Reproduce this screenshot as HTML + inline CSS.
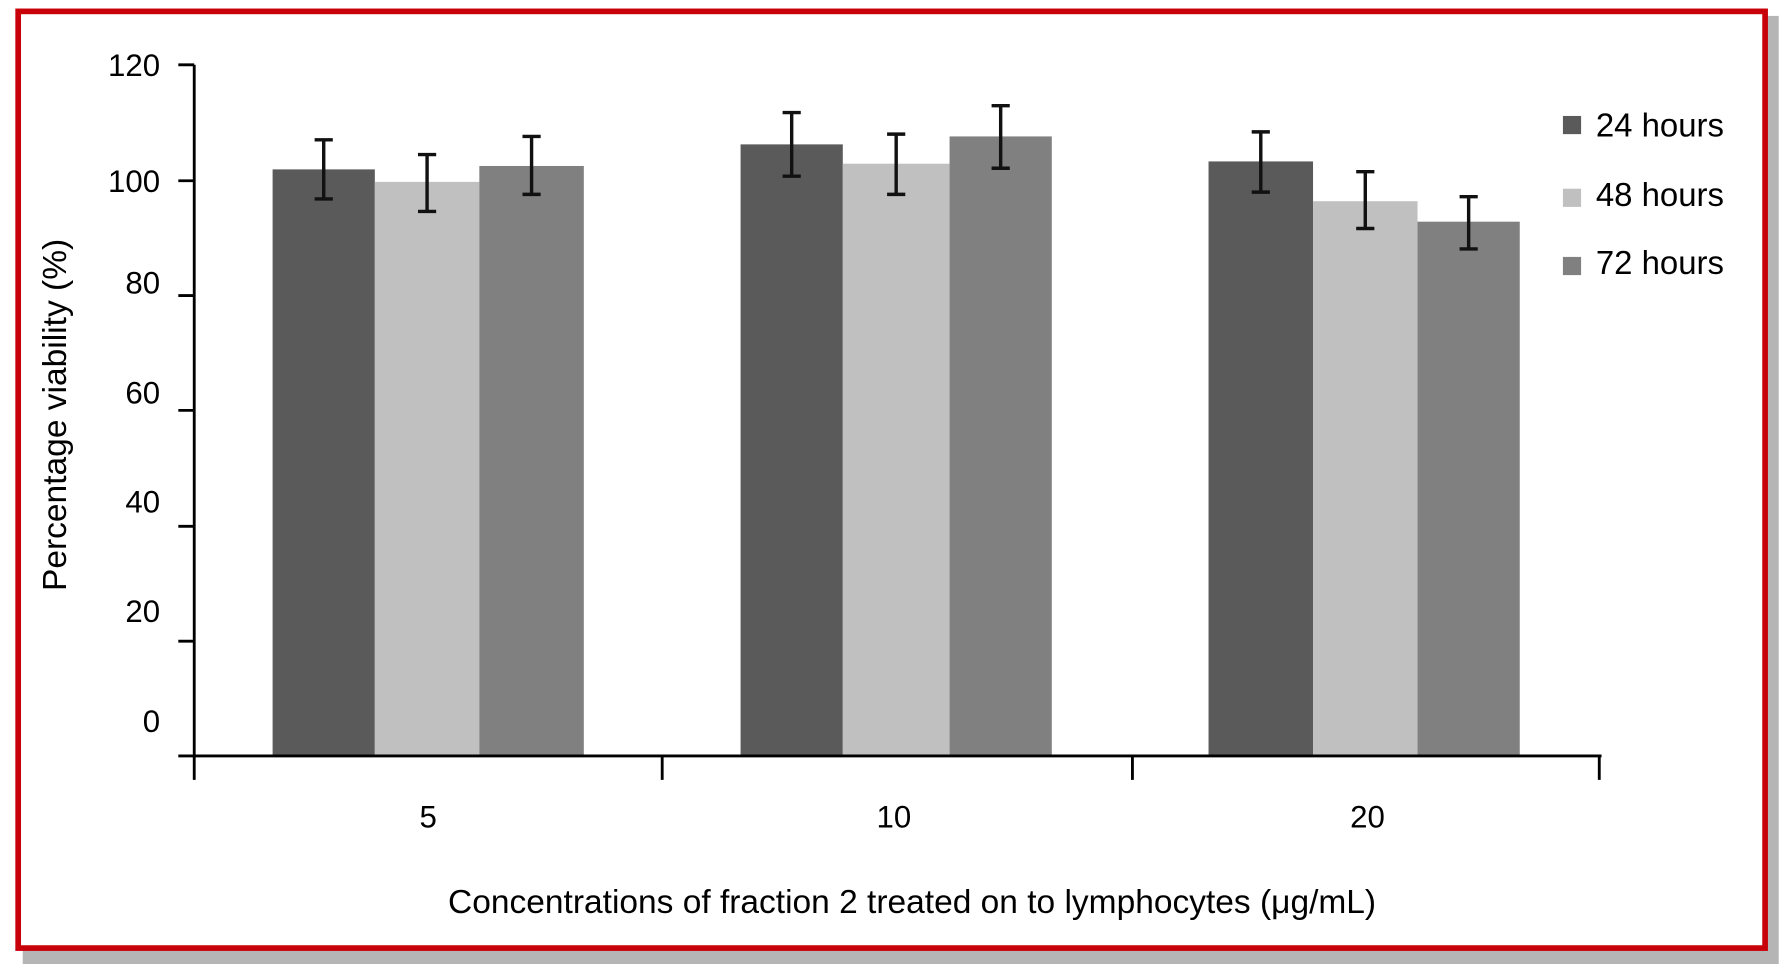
<!DOCTYPE html>
<html><head><meta charset="utf-8"><style>html,body{margin:0;padding:0;background:#fff}svg{display:block}</style></head>
<body>
<svg width="1781" height="964" viewBox="0 0 1568 848" preserveAspectRatio="none" xmlns="http://www.w3.org/2000/svg" font-family="Liberation Sans, Arial, sans-serif">
<rect x="0" y="0" width="1568" height="848" fill="#fff"/>
<rect x="20" y="14" width="1546" height="834" fill="#b5b5b5"/>
<rect x="16" y="10" width="1538" height="824" fill="#fff" stroke="#c8000a" stroke-width="5"/>
<g fill="#5a5a5a"><rect x="240" y="149" width="90" height="516"/><rect x="652" y="127" width="90" height="538"/><rect x="1064" y="142" width="92" height="523"/></g>
<g fill="#c0c0c0"><rect x="330" y="160" width="92" height="505"/><rect x="742" y="144" width="94" height="521"/><rect x="1156" y="177" width="92" height="488"/></g>
<g fill="#808080"><rect x="422" y="146" width="92" height="519"/><rect x="836" y="120" width="90" height="545"/><rect x="1248" y="195" width="90" height="470"/></g>
<g stroke="#111" stroke-width="3" fill="none">
<path d="M285 123V175M277 123H293M277 175H293"/>
<path d="M376 136V186M368 136H384M368 186H384"/>
<path d="M468 120V171M460 120H476M460 171H476"/>
<path d="M697 99V155M689 99H705M689 155H705"/>
<path d="M789 118V171M781 118H797M781 171H797"/>
<path d="M881 93V148M873 93H889M873 148H889"/>
<path d="M1110 116V169M1102 116H1118M1102 169H1118"/>
<path d="M1202 151V201M1194 151H1210M1194 201H1210"/>
<path d="M1293 173V219M1285 173H1301M1285 219H1301"/>
</g>
<g stroke="#000" stroke-width="2.5" fill="none">
<path d="M171 57V665M157 665H1410"/>
<path d="M157 57H171M157 159H171M157 260H171M157 361H171M157 463H171M157 564H171"/>
<path d="M171 665V686M583 665V686M997 665V686M1408 665V686"/>
</g>
<g font-size="27.5" fill="#000" text-anchor="end">
<text x="141" y="67">120</text><text x="141" y="169">100</text><text x="141" y="258">80</text><text x="141" y="355">60</text><text x="141" y="451">40</text><text x="141" y="547">20</text><text x="141" y="644">0</text>
</g>
<g font-size="27.5" fill="#000" text-anchor="middle">
<text x="377" y="728">5</text><text x="787" y="728">10</text><text x="1204" y="728">20</text>
</g>
<g font-size="29.5" fill="#000" text-anchor="middle">
<text x="803" y="803">Concentrations of fraction 2 treated on to lymphocytes (μg/mL)</text>
<text transform="translate(58,365) rotate(-90)">Percentage viability (%)</text>
</g>
<rect x="1376" y="102" width="16" height="16" fill="#5a5a5a"/>
<rect x="1376" y="166" width="16" height="16" fill="#c0c0c0"/>
<rect x="1376" y="226" width="16" height="16" fill="#808080"/>
<g font-size="29" fill="#000"><text x="1405" y="120">24 hours</text><text x="1405" y="181">48 hours</text><text x="1405" y="241">72 hours</text></g>
</svg>
</body></html>
